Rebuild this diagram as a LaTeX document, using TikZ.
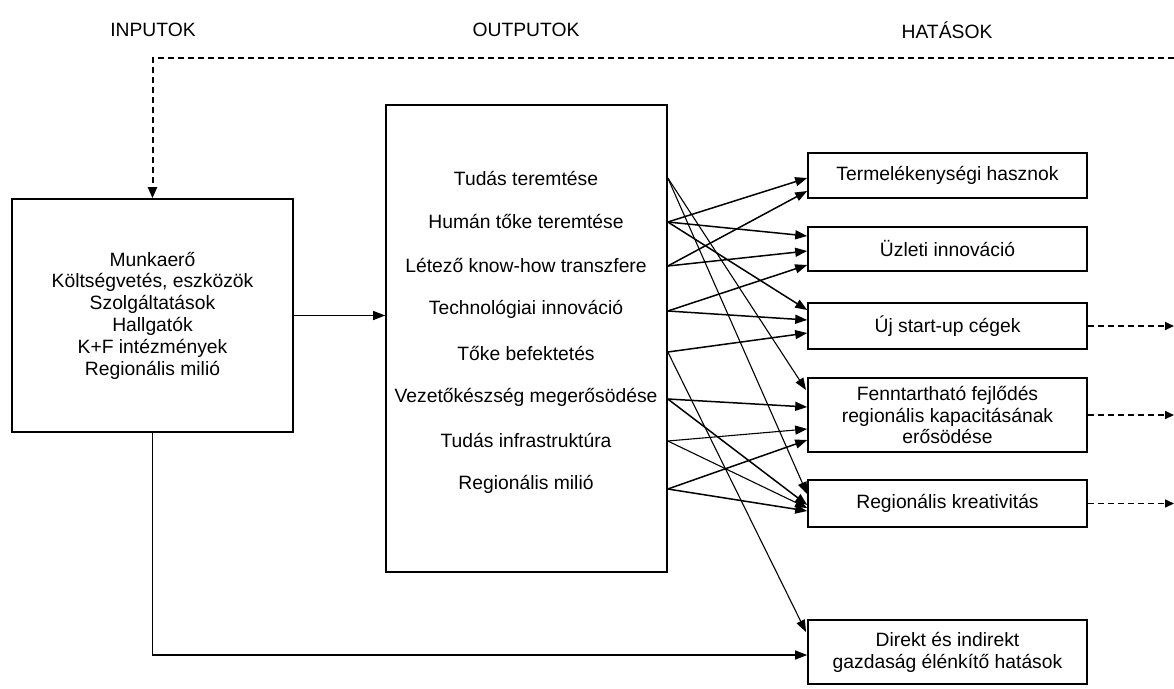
\documentclass[tikz,border=0pt]{standalone}
\usepackage{fontspec}
\setmainfont{Liberation Sans}
\usetikzlibrary{arrows.meta}
\begin{document}
\begin{tikzpicture}[x=1pt,y=-1pt,
  font=\fontsize{19.3}{21.8}\selectfont,
  box/.style={draw,line width=1.6pt,rectangle,inner sep=0pt,align=center},
  impact/.style={box,minimum width=279pt},
  tip/.style={-{Triangle[length=12pt,width=9pt]}},
  link/.style={tip,line width=1.5pt},
  thinlink/.style={tip,line width=1.1pt},
  dsh/.style={line width=2pt,dash pattern=on 6pt off 4pt},
  dsharr/.style={line width=1.6pt,dash pattern=on 6pt off 4pt,-{Triangle[length=9pt,width=8pt]}},
  head/.style={inner sep=0pt}]
\useasboundingbox (0,0) rectangle (1174,688);

% column headings
\node[head] (h1) at (153,30) {INPUTOK};
\node[head] (h2) at (526,30) {OUTPUTOK};
\node[head] (h3) at (947,30) {HATÁSOK};

% inputs
\node[box,minimum width=281pt,minimum height=233pt] (in) at (152.5,315.5)
  {Munkaerő\\Költségvetés, eszközök\\Szolgáltatások\\Hallgatók\\K+F intézmények\\Regionális milió};

% outputs
\node[box,minimum width=281pt,minimum height=467pt] (out) at (526.5,338.5) {};
\node[head] (o1) at (526,178) {Tudás teremtése};
\node[head] (o2) at (526,221) {Humán tőke teremtése};
\node[head] (o3) at (526,265) {Létező know-how transzfere};
\node[head] (o4) at (526,309) {Technológiai innováció};
\node[head] (o5) at (526,353) {Tőke befektetés};
\node[head] (o6) at (526,397) {Vezetőkészség megerősödése};
\node[head] (o7) at (526,440) {Tudás infrastruktúra};
\node[head] (o8) at (526,484) {Regionális milió};

% impacts
\node[impact,minimum height=45pt] (t1) at (947.5,175.5) {Termelékenységi hasznok};
\node[impact,minimum height=44pt] (t2) at (947.5,249) {Üzleti innováció};
\node[impact,minimum height=46pt] (t3) at (947.5,326) {Új start-up cégek};
\node[impact,minimum height=74pt] (t4) at (947.5,415)
  {Fenntartható fejlődés\\regionális kapacitásának\\erősödése};
\node[impact,minimum height=47pt] (t5) at (947.5,503.5) {Regionális kreativitás};
\node[impact,minimum height=64pt] (t6) at (947.5,652)
  {Direkt és indirekt\\gazdaság élénkítő hatások};

% start points on the output box edge
\coordinate (s1) at (out.east |- 0,178);
\coordinate (s2) at (out.east |- 0,222);
\coordinate (s3) at (out.east |- 0,266);
\coordinate (s4) at (out.east |- 0,311);
\coordinate (s5) at (out.east |- 0,352);
\coordinate (s6) at (out.east |- 0,399);
\coordinate (s7) at (out.east |- 0,441);
\coordinate (s8) at (out.east |- 0,489);

% inputs to outputs
\draw[thinlink] (in.east) -- (out.west |- in.east);

% outputs to impacts
\draw[thinlink] (s1) -- (806,390);
\draw[thinlink] (s1) -- (t5.west |- 0,494);
\draw[link] (s2) -- (t1.west |- 0,178);
\draw[link] (s2) -- (t2.west |- 0,236);
\draw[link] (s2) -- (t3.west |- 0,310);
\draw[link] (s3) -- (t1.west |- 0,191);
\draw[link] (s3) -- (t2.west |- 0,251);
\draw[link] (s4) -- (t2.west |- 0,265);
\draw[link] (s4) -- (t3.west |- 0,320);
\draw[link] (s5) -- (t3.west |- 0,333);
\draw[thinlink] (s5) -- (806,632);
\draw[link] (s6) -- (t4.west |- 0,407);
\draw[link] (s6) -- (t5.west |- 0,505);
\draw[thinlink] (s7) -- (t4.west |- 0,429);
\draw[thinlink] (s7) -- (t5.west |- 0,508);
\draw[link] (s8) -- (t4.west |- 0,440);
\draw[link] (s8) -- (t5.west |- 0,511);

% inputs straight to the economic effects
\coordinate (bend) at (in.south |- 0,655);
\draw[thinlink] (in.south) -- (bend) -- (bend -| t6.west);

% feedback loop into the inputs
\coordinate (fbR) at (1174,58);
\coordinate (fbL) at (in.north |- 0,58);
\draw[dsh,-{Triangle[length=11pt,width=9pt]}] (fbR) -- (fbL) -- (in.north);

% impacts leading onward
\coordinate (e3) at (1174,326);
\coordinate (e4) at (1174,415);
\coordinate (e5) at (1174,503.5);
\draw[dsharr] (t3.east) -- (e3);
\draw[dsharr] (t4.east) -- (e4);
\draw[dsharr] (t5.east) -- (e5);
\end{tikzpicture}
\end{document}
